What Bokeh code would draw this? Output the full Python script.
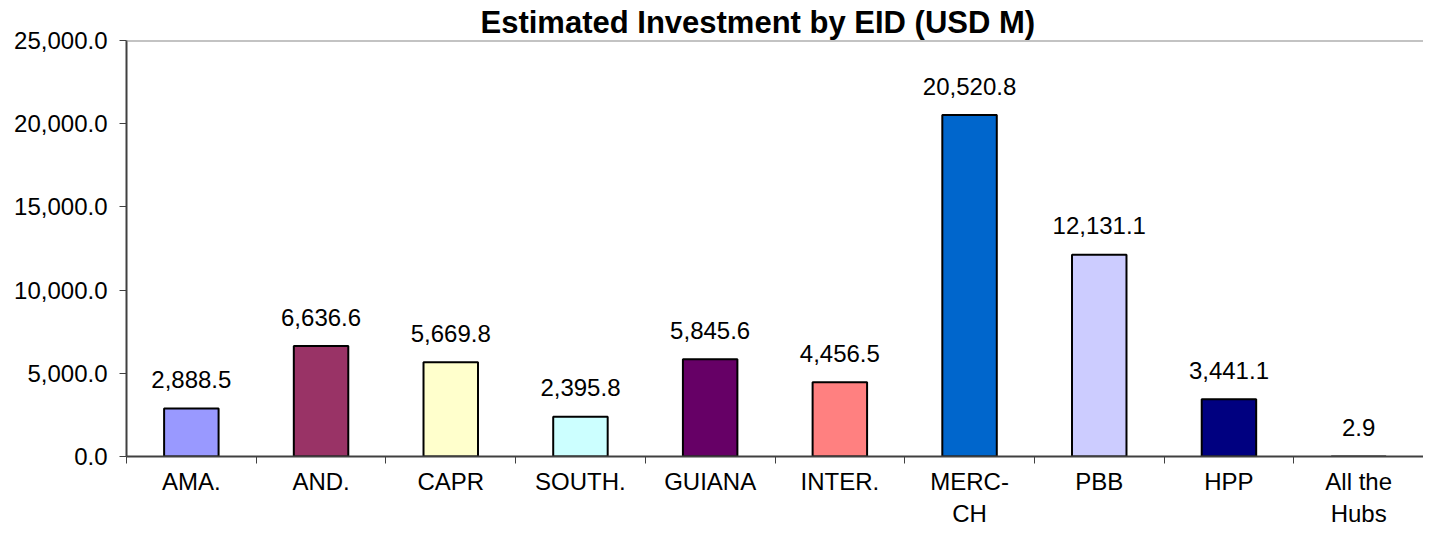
from bokeh.plotting import figure
from bokeh.models import ColumnDataSource, FixedTicker, NumeralTickFormatter, Span, Range1d
from bokeh.core.properties import value
from bokeh.embed import file_html
from bokeh.resources import INLINE

categories = ["AMA.", "AND.", "CAPR", "SOUTH.", "GUIANA", "INTER.", "MERC-\nCH", "PBB", "HPP", "All the\nHubs"]
investment = [2888.5, 6636.6, 5669.8, 2395.8, 5845.6, 4456.5, 20520.8, 12131.1, 3441.1, 2.9]
colors = ["#9999FF", "#993366", "#FFFFCC", "#CCFFFF", "#660066", "#FF8080", "#0066CC", "#CCCCFF", "#000080", "#FFFFFF"]
y_ticks = [0, 5000, 10000, 15000, 20000, 25000]

n = len(categories)
xs = [i + 0.5 for i in range(n)]
labels = ["{:,.1f}".format(v) for v in investment]
src = ColumnDataSource(dict(x=xs, top=investment, color=colors, label=labels))

FONT = "Liberation Sans"

p = figure(width=1423, height=529, output_backend="svg", toolbar_location=None,
           x_range=Range1d(0, n), y_range=Range1d(0, 25000),
           min_border_left=126, min_border_right=0, min_border_top=40, min_border_bottom=0)
p.title.text = "Estimated Investment by EID (USD M)"
p.title.text_font = FONT
p.title.text_font_size = "31px"
p.title.text_font_style = "bold"
p.title.text_color = "black"
p.title.align = "left"
p.title.offset = 354
p.title.standoff = 2
p.outline_line_color = None
p.xgrid.visible = False
p.ygrid.visible = False
p.background_fill_color = "white"
p.border_fill_color = "white"

p.vbar(x="x", top="top", width=0.42, bottom=0, fill_color="color", line_color="black", line_width=2, source=src)
p.text(x="x", y="top", text="label", source=src, text_align="center", text_baseline="middle",
       y_offset=-29, text_font=value(FONT), text_font_size="24px", text_color="black")

p.add_layout(Span(location=25000, dimension="width", line_color="#888888", line_width=2))

# x axis
xa = p.xaxis[0]
xa.ticker = FixedTicker(ticks=xs, minor_ticks=list(range(n + 1)))
xa.major_label_overrides = {x: c for x, c in zip(xs, categories)}
xa.major_tick_line_color = None
xa.major_tick_out = 0
xa.major_tick_in = 0
xa.minor_tick_out = 7
xa.minor_tick_in = 0
xa.minor_tick_line_color = "#404040"
xa.minor_tick_line_width = 1
xa.axis_line_color = "#404040"
xa.axis_line_width = 2
xa.major_label_text_font = FONT
xa.major_label_text_font_size = "24px"
xa.major_label_text_color = "black"
xa.major_label_standoff = 4

ya = p.yaxis[0]
ya.ticker = FixedTicker(ticks=y_ticks)
ya.formatter = NumeralTickFormatter(format="0,0.0")
ya.minor_tick_line_color = None
ya.major_tick_out = 7
ya.major_tick_in = 0
ya.major_tick_line_color = "#404040"
ya.axis_line_color = "#404040"
ya.axis_line_width = 2
ya.major_label_text_font = FONT
ya.major_label_text_font_size = "24px"
ya.major_label_text_color = "black"
ya.major_label_standoff = 12

open("out.html", "w").write(file_html(p, INLINE))
